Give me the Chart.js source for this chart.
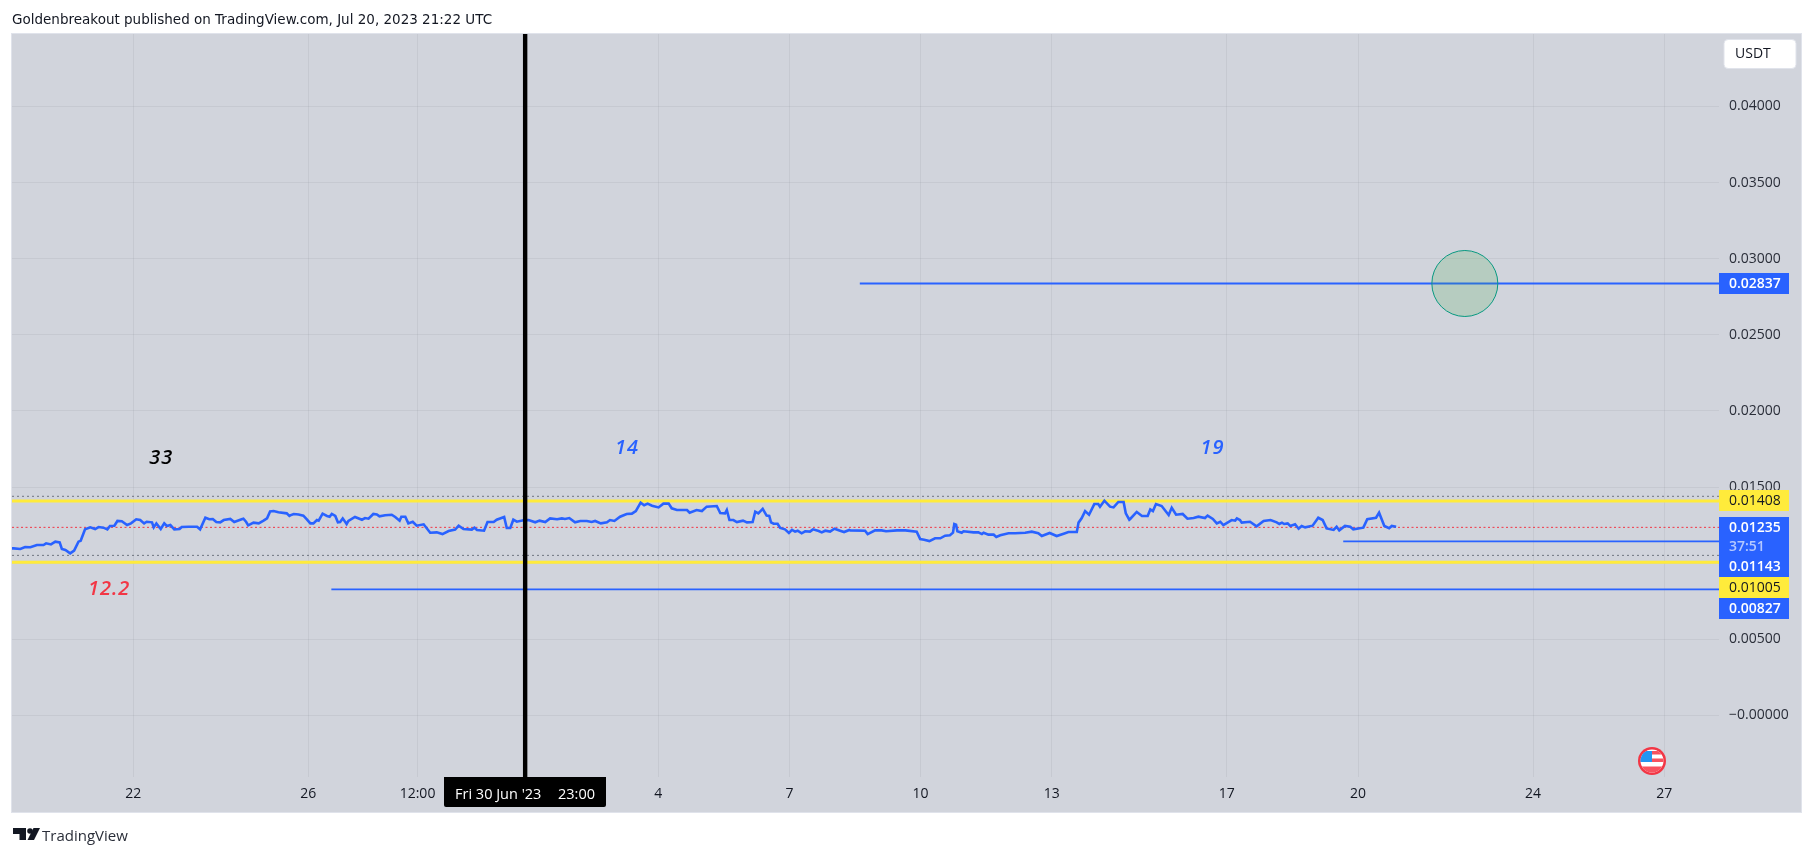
<!DOCTYPE html>
<html>
<head>
<meta charset="utf-8">
<title>Chart</title>
<script src="https://cdn.jsdelivr.net/npm/chart.js@4"></script>
<style>
    html, body { margin: 0; background: #fff; overflow: hidden; }
    #wrap { position: relative; width: 1814px; height: 856px; }
    canvas { position: absolute; left: 0; top: 0; }
    #title { position: absolute; left: 12px; top: 11px; font: 13.5px "DejaVu Sans"; color: #131722; white-space: nowrap; }
    #brand { position: absolute; left: 42px; top: 825px; font: 15px "Open Sans"; color: #2a2e39; white-space: nowrap; }
</style>
</head>
<body>
<div id="wrap">
    <canvas id="chart" width="1814" height="856"></canvas>
    <div id="title">Goldenbreakout published on TradingView.com, Jul 20, 2023 21:22 UTC</div>
    <div id="brand">TradingView</div>
</div>
<script>
// x is in days counted from 1 June 2023, so 34 = 4 July
const xTickDays = [22, 26, 28.5, 34, 37, 40, 43, 47, 50, 54, 57];
const xTickLabels = ["22", "26", "12:00", "4", "7", "10", "13", "17", "20", "24", "27"];
const yTickValues = [0, 0.005, 0.01, 0.015, 0.02, 0.025, 0.03, 0.035, 0.04];
const yTickLabels = ["\u22120.00000", "0.00500", "0.01000", "0.01500", "0.02000", "0.02500", "0.03000", "0.03500", "0.04000"];

const priceDays = [19.23,19.27,19.42,19.53,19.65,19.80,19.95,20.01,20.12,20.22,20.32,20.37,20.45,20.56,20.65,20.75,20.80,20.90,21.02,21.13,21.21,21.32,21.41,21.47,21.57,21.64,21.74,21.86,21.95,22.07,22.16,22.25,22.31,22.43,22.47,22.53,22.63,22.71,22.77,22.85,22.94,23.06,23.11,23.27,23.46,23.53,23.65,23.74,23.82,23.90,23.99,24.07,24.22,24.31,24.48,24.52,24.58,24.63,24.75,24.87,24.98,25.06,25.13,25.21,25.32,25.51,25.57,
    25.59,25.67,25.78,25.89,25.97,26.05,26.12,26.20,26.24,26.33,26.43,26.49,26.54,26.62,26.68,26.73,26.79,26.88,26.92,27.07,27.23,27.30,27.38,27.49,27.57,27.63,27.76,27.91,27.99,28.09,28.13,28.22,28.29,28.39,28.48,28.64,28.79,28.94,29.07,29.21,29.36,29.44,29.55,29.74,29.80,29.86,30.02,30.10,30.24,30.31,30.48,30.54,30.62,30.69,30.77,30.92,31.04,31.19,31.29,31.42,31.53,31.69,31.80,31.87,31.97,
    31.99,32.10,32.22,32.37,32.48,32.56,32.69,32.83,32.90,33.00,33.13,33.28,33.40,33.49,33.60,33.68,33.76,33.86,34.01,34.12,34.24,34.31,34.43,34.66,34.72,34.88,35.00,35.11,35.34,35.42,35.53,35.57,35.63,35.72,35.80,35.94,36.03,36.16,36.22,36.29,36.39,36.48,36.54,36.58,36.64,36.73,36.79,36.90,36.99,37.06,37.13,37.19,37.28,37.36,37.47,37.54,37.67,37.74,37.82,37.93,38.03,38.16,38.25,38.37,
    38.39,38.73,38.79,38.96,39.11,39.21,39.46,39.65,39.91,39.99,40.08,40.20,40.33,40.45,40.56,40.67,40.74,40.77,40.81,40.84,40.94,40.98,41.21,41.32,41.40,41.44,41.55,41.67,41.73,41.82,42.01,42.16,42.39,42.54,42.69,42.77,42.95,43.11,43.27,43.38,43.57,43.61,43.68,43.76,43.85,43.97,44.06,44.10,44.20,44.33,44.41,44.52,44.64,44.69,44.77,
    44.79,44.94,45.06,45.19,45.25,45.31,45.38,45.51,45.67,45.74,45.84,45.99,46.10,46.24,46.35,46.50,46.56,46.68,46.77,46.85,46.92,47.11,47.19,47.23,47.30,47.34,47.53,47.68,47.84,48.00,48.14,48.20,48.26,48.31,48.39,48.45,48.56,48.64,48.71,48.79,48.96,49.09,49.19,49.28,49.44,49.51,49.57,49.70,49.82,49.89,50.12,50.21,50.41,50.48,50.60,50.71,50.77,50.87];
const prices = [.01097,.01097,.01093,.01106,.01104,.01119,.01119,.01130,.01123,.01141,.01136,.01093,.01086,.01064,.01082,.01141,.01147,.01222,.01235,.01224,.01237,.01233,.01222,.01244,.01246,.01277,.01275,.01250,.01261,.01288,.01283,.01261,.01272,.01268,.01235,.01261,.01224,.01261,.01244,.01250,.01222,.01224,.01237,.01239,.01239,.01222,.01298,.01288,.01290,.01270,.01268,.01283,.01290,.01270,.01288,.01292,.01272,.01248,.01266,.01261,.01279,.01294,.01340,.01342,.01334,.01327,.01310,
    .01314,.01323,.01320,.01312,.01288,.01261,.01261,.01283,.01279,.01325,.01310,.01305,.01323,.01310,.01268,.01270,.01294,.01257,.01277,.01303,.01285,.01296,.01292,.01323,.01320,.01307,.01314,.01318,.01303,.01279,.01305,.01305,.01261,.01272,.01246,.01255,.01200,.01202,.01191,.01211,.01220,.01246,.01224,.01220,.01233,.01218,.01213,.01270,.01270,.01285,.01303,.01231,.01231,.01285,.01272,.01281,.01283,.01268,.01279,.01270,.01294,.01288,.01294,.01290,.01296,
    .01292,.01268,.01277,.01277,.01270,.01277,.01261,.01268,.01283,.01277,.01305,.01323,.01325,.01342,.01397,.01380,.01391,.01377,.01366,.01391,.01391,.01360,.01349,.01349,.01331,.01349,.01342,.01371,.01375,.01329,.01327,.01349,.01283,.01283,.01270,.01279,.01268,.01270,.01338,.01327,.01356,.01312,.01310,.01268,.01259,.01259,.01231,.01222,.01198,.01218,.01207,.01213,.01196,.01209,.01207,.01222,.01211,.01202,.01213,.01207,.01226,.01213,.01204,.01218,
    .01215,.01213,.01191,.01215,.01215,.01209,.01215,.01215,.01207,.01158,.01154,.01145,.01163,.01163,.01180,.01183,.01200,.01257,.01253,.01209,.01200,.01209,.01202,.01202,.01191,.01200,.01187,.01187,.01172,.01183,.01196,.01196,.01200,.01207,.01196,.01178,.01198,.01178,.01193,.01204,.01204,.01266,.01294,.01342,.01318,.01388,.01388,.01371,.01410,.01371,.01366,.01402,.01402,.01327,.01285,
    .01290,.01336,.01310,.01310,.01353,.01342,.01388,.01375,.01316,.01364,.01318,.01323,.01292,.01296,.01305,.01296,.01312,.01290,.01261,.01272,.01250,.01283,.01279,.01294,.01283,.01266,.01272,.01242,.01277,.01283,.01268,.01257,.01266,.01257,.01261,.01244,.01255,.01226,.01244,.01235,.01246,.01298,.01283,.01228,.01218,.01239,.01215,.01244,.01239,.01222,.01233,.01288,.01298,.01331,.01244,.01229,.01244,.01239];

// horizontal levels drawn on the chart
const blueLevels = [0.02837, 0.01143, 0.00827];
const blueLevelStarts = [38.61, 49.66, 26.53];
const yellowLevels = [0.01408, 0.01005];
const grayLevels = [0.01439, 0.01051];
const lastPrice = 0.01235;
const cursorDay = 30.96;
const circleDay = 52.44;
const circleValue = 0.02837;

// text notes on the chart
const noteTexts = ["33", "14", "19", "12.2"];
const noteDays = [22.64, 33.29, 46.67, 21.45];
const noteValues = [0.01687, 0.01753, 0.01753, 0.00826];

const xMin = 19.23, xMax = 58.25, yMin = -0.00405, yMax = 0.04476;
const FONT = '"Open Sans"';
const BLUE = "#2962ff", YELLOW = "#ffeb3b";

function hLine(value, from, color, width, dash) {
    return {
        data: [{ x: from, y: value }, { x: xMax, y: value }],
        borderColor: color, borderWidth: width, borderDash: dash || [], pointRadius: 0
    };
}

const datasets = [];
grayLevels.forEach(v => datasets.push(hLine(v, xMin, "#6f7480", 1, [2, 3])));
datasets.push(hLine(lastPrice, xMin, "#f23645", 1, [2, 2.5]));
yellowLevels.forEach(v => datasets.push(hLine(v, xMin, YELLOW, 3)));
datasets.push({
    data: priceDays.map((d, i) => ({ x: d, y: prices[i] })),
    borderColor: BLUE, borderWidth: 2.6, pointRadius: 0, tension: 0
});
blueLevels.forEach((v, i) => datasets.push(hLine(v, blueLevelStarts[i], BLUE, 1.8)));
datasets.push({
    data: [{ x: circleDay, y: circleValue }],
    showLine: false, pointRadius: 33, pointBackgroundColor: "rgba(76,175,80,0.2)",
    pointBorderColor: "#089981", pointBorderWidth: 1
});
datasets.push({
    data: [{ x: cursorDay, y: yMin }, { x: cursorDay, y: yMax }],
    borderColor: "#000", borderWidth: 4.4, pointRadius: 0
});
// Chart.js paints the first dataset last, so the list above is bottom to top
datasets.reverse();

// panel background behind everything
const panelPlugin = {
    id: "panel",
    beforeDraw(chart) {
        const c = chart.ctx;
        c.save();
        c.fillStyle = "#d1d4dc";
        c.fillRect(12, 34, 1789, 778);
        c.strokeStyle = "#e0e3eb";
        c.lineWidth = 1;
        c.strokeRect(11.5, 33.5, 1790, 779);
        c.restore();
    }
};

function priceTag(c, text, top, bottom, bg, fg) {
    c.fillStyle = bg;
    c.fillRect(1719, top, 70, bottom - top);
    c.fillStyle = fg;
    c.fillText(text, 1729, (top + bottom) / 2 + 0.5);
}

function drawFlag(c, cx, cy) {
    c.save();
    c.beginPath();
    c.arc(cx, cy, 14, 0, Math.PI * 2);
    c.fillStyle = "#f23645";
    c.fill();
    c.beginPath();
    c.arc(cx, cy, 11.5, 0, Math.PI * 2);
    c.fillStyle = "#fff";
    c.fill();
    c.clip();
    c.fillStyle = "#f7525f";
    c.fillRect(cx - 12, cy - 10, 24, 3.5);
    c.fillRect(cx - 12, cy - 2.5, 24, 3.5);
    c.fillRect(cx - 12, cy + 5.5, 24, 7);
    c.fillStyle = "#2196f3";
    c.fillRect(cx - 12, cy - 10, 12, 11);
    c.restore();
}

function drawLogo(c) {
    c.save();
    c.fillStyle = "#131722";
    c.beginPath();
    c.moveTo(13, 828); c.lineTo(26, 828); c.lineTo(26, 840); c.lineTo(19.5, 840);
    c.lineTo(19.5, 834); c.lineTo(13, 834);
    c.closePath();
    c.fill();
    c.beginPath();
    c.arc(30, 831, 2.8, 0, Math.PI * 2);
    c.fill();
    c.beginPath();
    c.moveTo(33.5, 828); c.lineTo(40, 828); c.lineTo(34, 840); c.lineTo(27.5, 840);
    c.closePath();
    c.fill();
    c.restore();
}

// notes, price tags and the boxes over the axes
const overlayPlugin = {
    id: "overlay",
    afterDraw(chart) {
        const c = chart.ctx, x = chart.scales.x, y = chart.scales.y;
        c.save();
        c.textBaseline = "middle";

        c.font = "italic 600 20px " + FONT;
        c.letterSpacing = "1px";
        c.textAlign = "center";
        const noteColors = ["#000", BLUE, BLUE, "#f23645"];
        noteTexts.forEach((t, i) => {
            c.fillStyle = noteColors[i];
            c.fillText(t, x.getPixelForValue(noteDays[i]), y.getPixelForValue(noteValues[i]));
        });
        c.letterSpacing = "0px";

        c.textAlign = "left";
        c.font = "600 14px " + FONT;
        priceTag(c, blueLevels[0].toFixed(5), 273, 294, BLUE, "#fff");
        priceTag(c, lastPrice.toFixed(5), 517, 538, BLUE, "#fff");
        priceTag(c, "37:51", 538, 556, BLUE, "#b4c8ff");
        priceTag(c, blueLevels[1].toFixed(5), 556, 577, BLUE, "#fff");
        priceTag(c, blueLevels[2].toFixed(5), 598, 619, BLUE, "#fff");
        c.font = "14px " + FONT;
        priceTag(c, yellowLevels[0].toFixed(5), 490, 511, YELLOW, "#131722");
        priceTag(c, yellowLevels[1].toFixed(5), 577, 598, YELLOW, "#131722");

        // currency box
        c.fillStyle = "#fff";
        c.strokeStyle = "#e0e3eb";
        c.beginPath();
        c.roundRect(1724, 39.5, 72, 29, 4);
        c.fill();
        c.stroke();
        c.fillStyle = "#131722";
        c.fillText("USDT", 1735, 54.5);

        // crosshair time label
        c.fillStyle = "#000";
        c.beginPath();
        c.roundRect(444, 777, 162, 30, [0, 0, 2, 2]);
        c.fill();
        c.fillStyle = "#fff";
        c.font = "14.5px " + FONT;
        c.fillText("Fri 30 Jun '23", 455, 795);
        c.fillText("23:00", 558, 795);

        drawFlag(c, 1652, 761);
        drawLogo(c);
        c.restore();
    }
};

new Chart(document.getElementById("chart"), {
    type: "line",
    data: { datasets: datasets },
    plugins: [panelPlugin, overlayPlugin],
    options: {
        responsive: false,
        animation: false,
        // the big circle point would otherwise push the plot area in
        layout: { autoPadding: false, padding: { left: 12, right: 13, top: 34, bottom: 44 } },
        plugins: { legend: { display: false }, tooltip: { enabled: false } },
        scales: {
            x: {
                type: "linear",
                min: xMin,
                max: xMax,
                afterBuildTicks(axis) { axis.ticks = xTickDays.map(v => ({ value: v })); },
                afterFit(axis) { axis.height = 35; axis.paddingLeft = 0; axis.paddingRight = 0; },
                grid: { color: "rgba(110,115,130,0.11)", drawTicks: false },
                border: { display: false },
                ticks: {
                    autoSkip: false,
                    maxRotation: 0,
                    padding: 9,
                    color: "#131722",
                    font: { family: FONT, size: 14 },
                    callback(v, i) { return xTickLabels[i]; }
                }
            },
            y: {
                position: "right",
                min: yMin,
                max: yMax,
                afterBuildTicks(axis) { axis.ticks = yTickValues.map(v => ({ value: v })); },
                afterFit(axis) { axis.width = 82; },
                grid: { color: "rgba(110,115,130,0.11)", drawTicks: false },
                border: { display: false },
                ticks: {
                    autoSkip: false,
                    padding: 10,
                    crossAlign: "near",
                    color: "#2a2e39",
                    font: { family: FONT, size: 14 },
                    callback(v, i) { return yTickLabels[i]; }
                }
            }
        }
    }
});
</script>
</body>
</html>
